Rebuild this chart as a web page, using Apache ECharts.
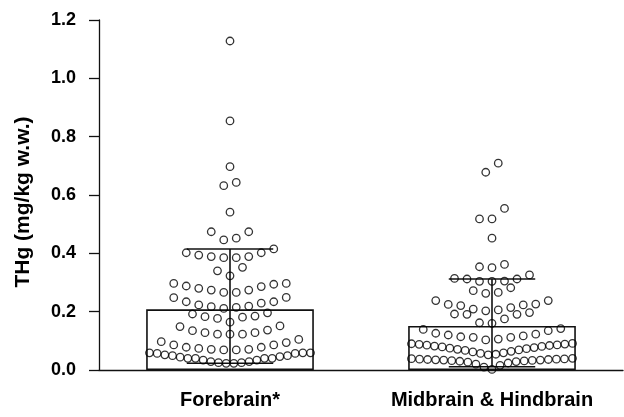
<!DOCTYPE html>
<html><head><meta charset="utf-8">
<script src="https://cdn.jsdelivr.net/npm/echarts@6/dist/echarts.min.js"></script>
<style>html,body{margin:0;padding:0;background:#fff}#c{width:624px;height:417px}</style>
</head><body><div id="c"></div>
<script>
// ---------------- data ----------------
const categories = ['Forebrain*', 'Midbrain & Hindbrain'];
const yMin = 0, yMax = 1.2, yStep = 0.2;
const barMeans = [0.208, 0.151];
const errLow = [0.023, 0.011];
const errHigh = [0.415, 0.312];
const forebrainValues = [
  0.023,0.023,0.025,0.025,0.029,0.029,0.034,0.034,0.040,0.040,0.040,0.040,0.044,0.046,0.049,0.049,0.052,0.057,0.057,0.059,0.059,0.059,
  0.069,0.069,0.071,0.071,0.074,0.078,0.078,0.086,0.086,0.094,0.097,0.105,
  0.123,0.123,0.123,0.128,0.128,0.135,0.137,0.149,0.151,
  0.164,0.177,0.181,0.183,0.185,0.192,0.196,
  0.211,0.215,0.217,0.219,0.223,0.229,0.234,0.234,0.248,0.249,
  0.266,0.266,0.274,0.274,0.280,0.286,0.288,0.294,0.297,0.297,
  0.323,0.340,0.352,
  0.385,0.385,0.389,0.389,0.394,0.402,0.402,0.415,
  0.446,0.452,0.474,0.474,
  0.541,0.632,0.643,0.697,0.854,1.128
];
const midbrainValues = [
  0.002,0.010,0.016,0.020,0.024,0.027,0.029,0.030,0.031,0.032,0.033,0.034,0.034,0.035,0.036,0.036,0.037,0.037,0.038,0.039,0.040,
  0.052,0.054,0.057,0.059,0.062,0.064,0.067,0.069,0.071,0.073,0.075,0.077,0.079,0.081,0.082,0.084,0.085,0.086,0.088,0.089,0.090,0.091,
  0.103,0.106,0.112,0.112,0.114,0.117,0.120,0.123,0.126,0.135,0.139,0.142,
  0.160,0.162,0.175,0.191,0.191,0.192,0.197,
  0.203,0.206,0.209,0.214,0.221,0.223,0.225,0.226,0.238,0.238,
  0.263,0.266,0.272,0.282,
  0.304,0.304,0.305,0.312,0.312,0.314,0.326,
  0.351,0.354,0.362,
  0.452,0.518,0.518,0.554,0.678,0.709
];

// ---------------- layout (Prism-like row swarm) ----------------
const W = 624, H = 417;
const GRID = {left: 99, right: 1, top: 20, bottom: 47};
const plotW = W - GRID.left - GRID.right;
const pxPerX = plotW / 2;          // hidden value x-axis spans -0.5..1.5
const ROW_TOL = 0.04;              // value tolerance for points sharing a row
const DOT_STEP = 12.5;             // px between neighbours in a row
const ROW_SPAN = 161;              // max px width of a row

function swarm(values, catIndex) {
  const sorted = values.slice().sort((a, b) => a - b);
  const rows = [];
  let cur = null;
  for (const v of sorted) {
    if (!cur || v - cur[0] >= ROW_TOL - 1e-9) { cur = [v]; rows.push(cur); }
    else cur.push(v);
  }
  const pts = [];
  for (const row of rows) {
    const n = row.length;
    const step = n > 1 ? Math.min(DOT_STEP, ROW_SPAN / (n - 1)) : 0;
    row.forEach((v, i) => {
      let slot;
      if (n % 2 === 1) {
        slot = i === 0 ? 0 : (i % 2 === 1 ? -Math.ceil(i / 2) : Math.ceil(i / 2));
      } else {
        const k = Math.floor(i / 2) + 0.5;
        slot = i % 2 === 0 ? -k : k;
      }
      pts.push([catIndex + slot * step / pxPerX, v]);
    });
  }
  return pts;
}

const FONT = 'Liberation Sans, Arial, Helvetica, sans-serif';
const INK = '#111';

const chart = echarts.init(document.getElementById('c'), null, {renderer: 'canvas'});
chart.setOption({
  animation: false,
  backgroundColor: '#fff',
  grid: GRID,
  xAxis: [{
    type: 'category',
    data: categories,
    axisLine: {onZero: false, lineStyle: {color: INK, width: 1.3}},
    axisTick: {alignWithLabel: true, length: 10, lineStyle: {color: INK, width: 1.3}},
    axisLabel: {interval: 0, hideOverlap: false, color: '#000', fontFamily: FONT, fontWeight: 'bold', fontSize: 20, margin: 20},
    splitLine: {show: false}
  }, {
    type: 'value', min: -0.5, max: 1.5, show: false
  }],
  yAxis: {
    type: 'value', min: yMin, max: yMax, interval: yStep,
    name: 'THg (mg/kg w.w.)', nameLocation: 'middle', nameGap: 65,
    nameTextStyle: {color: '#000', fontFamily: FONT, fontWeight: 'bold', fontSize: 21, padding: [0, 14, 0, 0]},
    axisLine: {show: true, onZero: false, lineStyle: {color: INK, width: 1.3}},
    axisTick: {show: true, length: 10, lineStyle: {color: INK, width: 1.3}},
    axisLabel: {color: '#000', fontFamily: FONT, fontWeight: 'bold', fontSize: 18, margin: 23,
      formatter: v => v.toFixed(1)},
    splitLine: {show: false}
  },
  series: [{
    type: 'bar',
    data: barMeans,
    barWidth: '64%',
    itemStyle: {color: 'rgba(255,255,255,0)', borderColor: INK, borderWidth: 1.6},
    z: 2
  }, {
    type: 'custom',
    data: categories.map((c, i) => [i, errLow[i], errHigh[i]]),
    renderItem: function (params, api) {
      const x = api.value(0);
      const pLo = api.coord([x, api.value(1)]);
      const pHi = api.coord([x, api.value(2)]);
      const half = api.size([1, 0])[0] * 0.33 / 2;
      const st = {stroke: INK, lineWidth: 1.6};
      return {type: 'group', children: [
        {type: 'line', shape: {x1: pHi[0], y1: pHi[1], x2: pLo[0], y2: pLo[1]}, style: st},
        {type: 'line', shape: {x1: pHi[0] - half, y1: pHi[1], x2: pHi[0] + half, y2: pHi[1]}, style: st},
        {type: 'line', shape: {x1: pLo[0] - half, y1: pLo[1], x2: pLo[0] + half, y2: pLo[1]}, style: st}
      ]};
    },
    z: 3
  }, {
    type: 'scatter', xAxisIndex: 1,
    data: swarm(forebrainValues, 0),
    symbol: 'circle', symbolSize: 7.5,
    itemStyle: {color: 'rgba(255,255,255,0)', borderColor: '#000', borderWidth: 1.3},
    z: 4
  }, {
    type: 'scatter', xAxisIndex: 1,
    data: swarm(midbrainValues, 1),
    symbol: 'circle', symbolSize: 7.5,
    itemStyle: {color: 'rgba(255,255,255,0)', borderColor: '#000', borderWidth: 1.3},
    z: 4
  }]
});
</script>
</body></html>
